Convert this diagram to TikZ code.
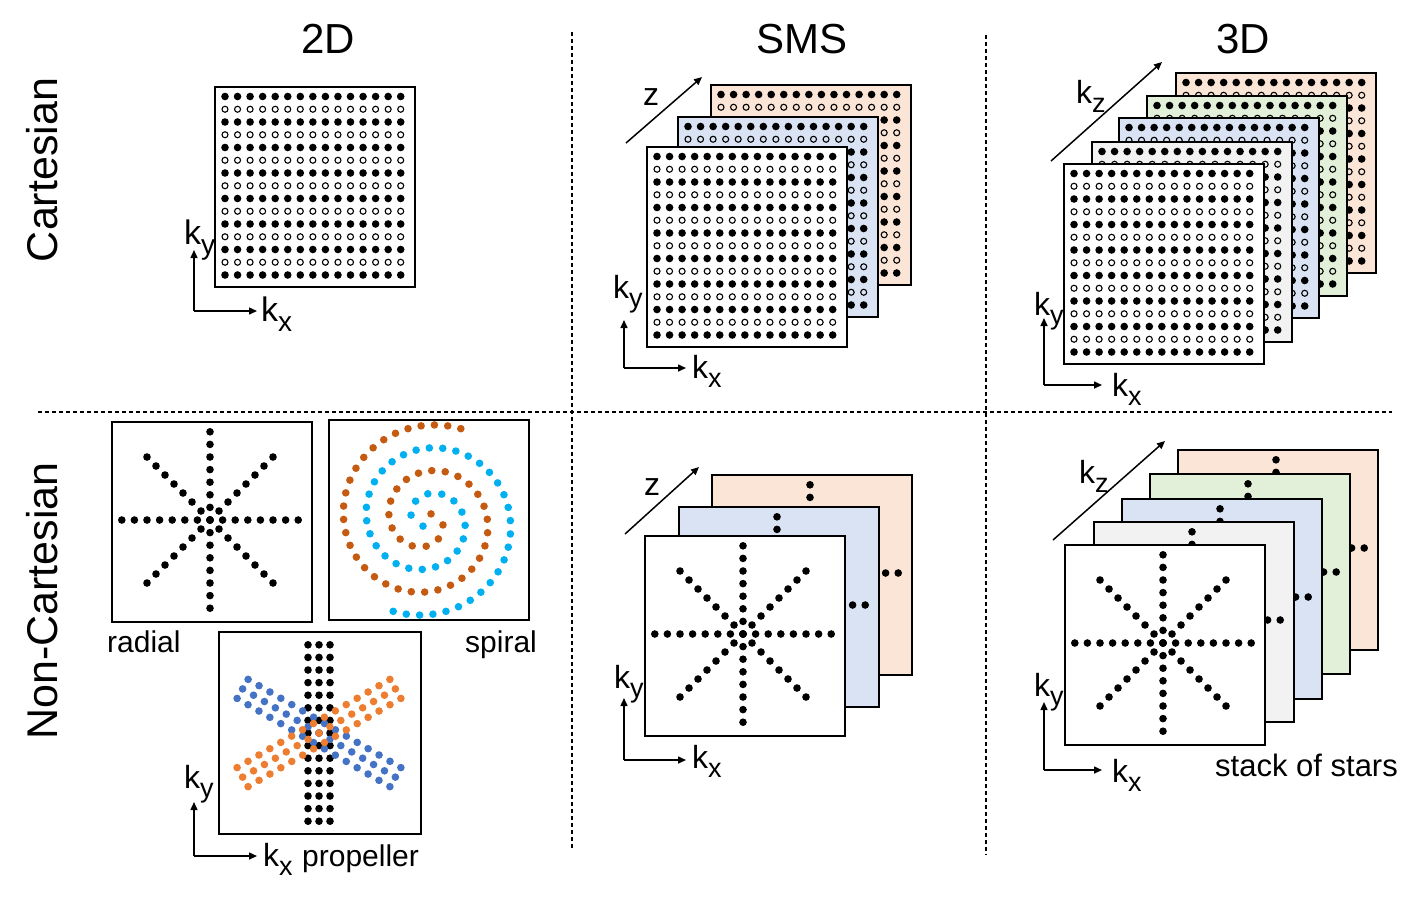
\documentclass[tikz,border=0pt]{standalone}
\usepackage{fontspec}
\setmainfont{Liberation Sans}
\usetikzlibrary{arrows.meta}
\definecolor{slorange}{HTML}{FBE5D6}
\definecolor{slblue}{HTML}{DAE3F3}
\definecolor{slgreen}{HTML}{E2F0D9}
\definecolor{slgray}{HTML}{F2F2F2}
\definecolor{spbrown}{HTML}{C55A11}
\definecolor{spcyan}{HTML}{00B0F0}
\definecolor{prorange}{HTML}{ED7D31}
\definecolor{prblue}{HTML}{4472C4}
\newcommand\fs[1]{\fontsize{#1}{#1}\selectfont}
\newcommand\ksub[3]{{\fs{#1}k\raisebox{-0.3em}{\fs{#2}#3}}}
\newcommand\cartslice[3]{%
  \filldraw[box,fill=#3] (#1,#2) rectangle ++(200,200);
  \foreach \j in {0,...,14}{
    \foreach \i in {0,...,14}{
      \ifodd\j
        \draw[opendot] ({#1+10+12.55*\i},{#2+9.5+12.75*\j}) circle (3.0pt);
      \else
        \fill ({#1+10+12.55*\i},{#2+9.5+12.75*\j}) circle (3.8pt);
      \fi
    }
  }
}
\newcommand\starpat[2]{%
  \foreach \k in {-7,...,7}{
    \fill ({#1+12.6*(\k)},{#2}) circle (3.8pt);
    \fill ({#1},{#2+12.6*(\k)}) circle (3.8pt);
    \fill ({#1+9*(\k)},{#2+9*(\k)}) circle (3.8pt);
    \fill ({#1+9*(\k)},{#2-9*(\k)}) circle (3.8pt);
  }
}
\newcommand\ncslice[3]{%
  \filldraw[box,fill=#3] (#1,#2) rectangle ++(200,200);
  \starpat{#1+98}{#2+98}
}
\newcommand\blade[3]{% angle, across spacing, colour
  \foreach \a in {-7,...,7}{
    \foreach \c in {-1,0,1}{
      \fill[#3] ({319+12.6*(\a)*cos(#1)-#2*(\c)*sin(#1)},{733+12.6*(\a)*sin(#1)+#2*(\c)*cos(#1)}) circle (3.8pt);
    }
  }
}
\begin{document}
\begin{tikzpicture}[x=1pt,y=-1pt,
  box/.style={line width=1.5pt, draw=black},
  opendot/.style={line width=1.1pt},
  axis/.style={line width=1.5pt,-{Triangle[length=8pt,width=7pt]}},
  lab/.style={inner sep=0pt, anchor=base west},
  dline/.style={line width=1.2pt, dash pattern=on 4pt off 3pt}]
\useasboundingbox (0,0) rectangle (1420,898);
\fill[white] (0,0) rectangle (1420,898);

% dashed separators
\coordinate (v1t) at (572,32); \coordinate (v1b) at (572,850);
\coordinate (v2t) at (986,35); \coordinate (v2b) at (986,855);
\coordinate (hl) at (38,412);  \coordinate (hr) at (1392,412);
\draw[dline] (v1t) -- (v1b);
\draw[dline] (v2t) -- (v2b);
\draw[dline] (hl) -- (hr);

% headers
\node[anchor=base,inner sep=0pt] (h2d) at (328,53) {\fs{42}2D};
\node[anchor=base,inner sep=0pt] (hsms) at (802,53) {\fs{42}SMS};
\node[anchor=base,inner sep=0pt] (h3d) at (1243,53) {\fs{42}3D};
\node[anchor=base,inner sep=0pt,rotate=90] (rcart) at (57,170) {\fs{43}Cartesian};
\node[anchor=base,inner sep=0pt,rotate=90] (rnon) at (57,601) {\fs{43}Non-Cartesian};

% ---------- 2D Cartesian ----------
\cartslice{215}{87}{white}
\coordinate (a1o) at (194,311); \coordinate (a1u) at (194,250); \coordinate (a1r) at (257,311);
\draw[axis] (a1o) -- (a1u); \draw[axis] (a1o) -- (a1r);
\node[lab] (a1ky) at (184,244) {\ksub{34}{28}{y}};
\node[lab] (a1kx) at (261,321) {\ksub{34}{28}{x}};

% ---------- SMS Cartesian ----------
\cartslice{711}{85}{slorange}
\cartslice{678}{117}{slblue}
\cartslice{647}{147}{white}
\coordinate (z1s) at (626,143); \coordinate (z1e) at (702,77);
\draw[axis] (z1s) -- (z1e);
\node[lab] (z1l) at (643,105) {\fs{32}z};
\coordinate (a2o) at (624,368); \coordinate (a2u) at (624,320); \coordinate (a2r) at (686,368);
\draw[axis] (a2o) -- (a2u); \draw[axis] (a2o) -- (a2r);
\node[lab] (a2ky) at (613,298) {\ksub{32}{27}{y}};
\node[lab] (a2kx) at (692,378) {\ksub{32}{27}{x}};

% ---------- 3D Cartesian ----------
\cartslice{1176}{73}{slorange}
\cartslice{1147}{96}{slgreen}
\cartslice{1119}{118}{slblue}
\cartslice{1092}{142}{slgray}
\cartslice{1064}{164}{white}
\coordinate (z2s) at (1051,161); \coordinate (z2e) at (1162,62);
\draw[axis] (z2s) -- (z2e);
\node[lab] (z2l) at (1076,103) {\ksub{32}{27}{z}};
\coordinate (a3o) at (1044,385); \coordinate (a3u) at (1044,318); \coordinate (a3r) at (1102,385);
\draw[axis] (a3o) -- (a3u); \draw[axis] (a3o) -- (a3r);
\node[lab] (a3ky) at (1034,315) {\ksub{32}{27}{y}};
\node[lab] (a3kx) at (1112,396) {\ksub{32}{27}{x}};

% ---------- 2D Non-Cartesian ----------
% radial
\ncslice{112}{422}{white}
\node[lab] (lrad) at (107,652) {\fs{30}radial};
% spiral
\filldraw[box,fill=white] (329,420) rectangle ++(200,200);
\foreach \ph/\col in {66/spcyan,246/spbrown}{
  \gdef\sptcur{1.0}
  \foreach \i in {1,...,80}{
    \ifdim\sptcur pt<13.4pt
      \pgfmathsetmacro\spr{7.3*\sptcur}
      \pgfmathsetmacro\spa{deg(\sptcur)+\ph}
      \fill[\col] ({427+\spr*cos(\spa)},{520+\spr*sin(\spa)}) circle (3.8pt);
    \fi
    \pgfmathsetmacro\sptn{\sptcur+13.3/(7.3*sqrt(1+\sptcur*\sptcur))}
    \global\let\sptcur\sptn
  }
}
\node[lab] (lspi) at (465,652) {\fs{30}spiral};
% propeller
\filldraw[box,fill=white] (219,632) rectangle ++(202,202);
\blade{90}{11}{black}
\blade{30}{11}{prblue}
\blade{-30}{11}{prorange}
\coordinate (a4o) at (194,856); \coordinate (a4u) at (194,802); \coordinate (a4r) at (257,856);
\draw[axis] (a4o) -- (a4u); \draw[axis] (a4o) -- (a4r);
\node[lab] (a4ky) at (184,788) {\ksub{32}{27}{y}};
\node[lab] (a4kx) at (263,866) {\ksub{32}{27}{x}};
\node[lab] (lpro) at (302,866) {\fs{30}propeller};

% ---------- SMS Non-Cartesian ----------
\ncslice{712}{475}{slorange}
\ncslice{679}{507}{slblue}
\ncslice{645}{536}{white}
\coordinate (z3s) at (625,534); \coordinate (z3e) at (699,467);
\draw[axis] (z3s) -- (z3e);
\node[lab] (z3l) at (644,495) {\fs{32}z};
\coordinate (a5o) at (624,760); \coordinate (a5u) at (624,698); \coordinate (a5r) at (686,760);
\draw[axis] (a5o) -- (a5u); \draw[axis] (a5o) -- (a5r);
\node[lab] (a5ky) at (614,688) {\ksub{32}{27}{y}};
\node[lab] (a5kx) at (692,768) {\ksub{32}{27}{x}};

% ---------- 3D Non-Cartesian ----------
\ncslice{1178}{450}{slorange}
\ncslice{1150}{474}{slgreen}
\ncslice{1122}{499}{slblue}
\ncslice{1094}{522}{slgray}
\ncslice{1065}{545}{white}
\coordinate (z4s) at (1053,540); \coordinate (z4e) at (1165,441);
\draw[axis] (z4s) -- (z4e);
\node[lab] (z4l) at (1079,483) {\ksub{32}{27}{z}};
\coordinate (a6o) at (1044,770); \coordinate (a6u) at (1044,702); \coordinate (a6r) at (1102,770);
\draw[axis] (a6o) -- (a6u); \draw[axis] (a6o) -- (a6r);
\node[lab] (a6ky) at (1034,696) {\ksub{32}{27}{y}};
\node[lab] (a6kx) at (1112,782) {\ksub{32}{27}{x}};
\node[lab] (lsos) at (1215,776) {\fs{31}stack of stars};
\end{tikzpicture}
\end{document}
